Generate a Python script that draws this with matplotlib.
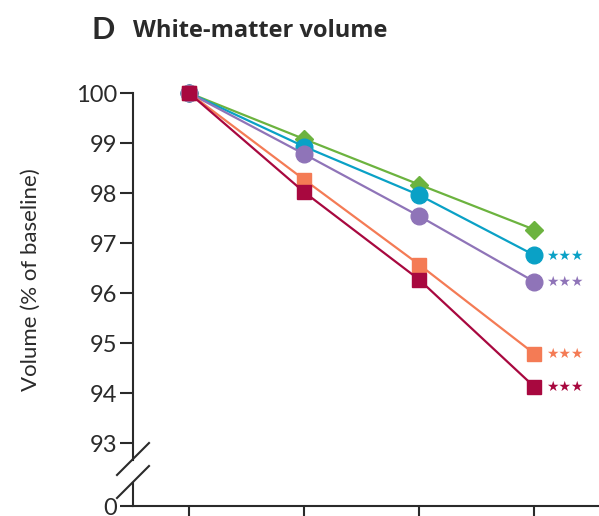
import matplotlib
matplotlib.use('Agg')
import matplotlib.pyplot as plt

plt.rcParams['font.family'] = ['Lato', 'DejaVu Sans']

timepoints = [0, 1, 2, 3]
green = [100, 99.08, 98.17, 97.27]
cyan = [100, 98.93, 97.96, 96.76]
purple = [100, 98.78, 97.54, 96.23]
orange = [100, 98.27, 96.57, 94.79]
darkred = [100, 98.02, 96.27, 94.13]
sig = ['', '***', '***', '***', '***']

series = [
    (green, '#6cb33f', 'D', 9.5),
    (cyan, '#0aa1c6', 'o', 12),
    (purple, '#8f74b8', 'o', 12),
    (orange, '#f47b55', 's', 10),
    (darkred, '#a8083f', 's', 10),
]

txt = '#2a2a2a'
fig = plt.figure(figsize=(5.99, 5.16), dpi=100)
ax = fig.add_axes([133/599, 10/516, 466/599, 428/516])

zero_pos = 91.74
for (vals, col, mk, ms), s in zip(series, sig):
    ax.plot(timepoints, vals, color=col, lw=1.6, marker=mk, ms=ms, clip_on=False, zorder=3)
    if s:
        ax.annotate('★★★', (timepoints[-1], vals[-1]), xytext=(9, -0.5),
                    textcoords='offset points', color=col, fontsize=10,
                    family='DejaVu Sans', va='center', ha='left')

ax.set_xlim(-0.487, 3.565)
ax.set_ylim(zero_pos, 100.3)
ax.set_yticks([zero_pos] + list(range(93, 101)))
ax.set_yticklabels(['0'] + [str(v) for v in range(93, 101)])
ax.set_xticks(timepoints)
ax.set_xticklabels([])
ax.tick_params(axis='y', length=9.5, width=1.5, color=txt, labelsize=17, labelcolor=txt, pad=2)
ax.tick_params(axis='x', length=7, width=1.5, color=txt)

for sp in ['top', 'right', 'left']:
    ax.spines[sp].set_visible(False)
ax.spines['bottom'].set_linewidth(1.5)
ax.spines['bottom'].set_color(txt)

# broken left axis
tr = ax.get_yaxis_transform()
ax.plot([0, 0], [92.66, 100], transform=tr, color=txt, lw=1.5, clip_on=False,
        solid_capstyle='projecting')
ax.plot([0, 0], [zero_pos, 92.2], transform=tr, color=txt, lw=1.5, clip_on=False)
y_to_frac = lambda y: (y - zero_pos) / (100.3 - zero_pos)
for yc in [92.68, 92.22]:
    f = y_to_frac(yc)
    ax.plot([-16/466, 16/466], [f - 16/428, f + 16/428], transform=ax.transAxes,
            color=txt, lw=1.5, clip_on=False)

ax.set_ylabel('Volume (% of baseline)', fontsize=16, color=txt)
ax.yaxis.set_label_coords(-0.198, 0.528)

fig.text(92/599, 1 - 30/516, 'D', fontsize=22, fontweight='bold', color=txt,
         va='center', ha='left')
fig.text(133/599, 1 - 31/516, 'White-matter volume', fontsize=17, fontweight='bold',
         family='Open Sans', color=txt, va='center', ha='left')

fig.savefig('out.png', dpi=100)
